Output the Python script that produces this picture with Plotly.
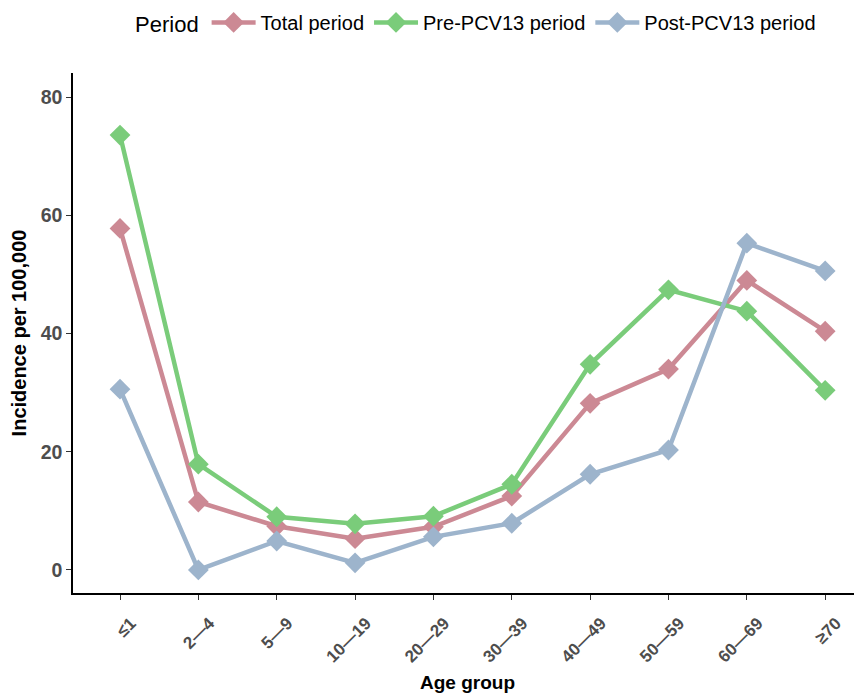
import plotly.graph_objects as go

age_groups = ["≤1", "2—4", "5—9", "10—19", "20—29", "30—39", "40—49", "50—59", "60—69", "≥70"]
total_period = [57.8, 11.5, 7.4, 5.3, 7.3, 12.5, 28.2, 34.0, 49.0, 40.4]
pre_pcv13 = [73.6, 17.9, 9.0, 7.8, 9.1, 14.5, 34.8, 47.4, 43.8, 30.4]
post_pcv13 = [30.6, 0.0, 4.9, 1.2, 5.6, 7.9, 16.2, 20.3, 55.3, 50.6]
y_ticks = [0, 20, 40, 60, 80]

series = [
    ("Total period", total_period, "#CC8994"),
    ("Pre-PCV13 period", pre_pcv13, "#7ACC7A"),
    ("Post-PCV13 period", post_pcv13, "#9DB4CC"),
]

fig = go.Figure()
for name, vals, color in series:
    fig.add_trace(go.Scatter(
        x=list(range(len(age_groups))), y=vals, name=name, mode="lines+markers",
        line=dict(color=color, width=4.5),
        marker=dict(symbol="diamond", size=16, color=color),
    ))

font_family = "Liberation Sans, Arial, sans-serif"
# page body has an 8px default margin, so the figure is offset by 8px
fig.update_layout(
    width=854, height=687,
    margin=dict(l=65, r=0, t=65, b=102),
    plot_bgcolor="white", paper_bgcolor="white",
    font=dict(family=font_family, color="black"),
    showlegend=True,
    legend=dict(
        orientation="h", xref="container", yref="container",
        x=0.1464, xanchor="left", y=0.979, yanchor="middle",
        title=dict(text="Period", font=dict(size=22)),
        font=dict(size=20), itemwidth=44, tracegroupgap=0,
    ),
    xaxis=dict(
        tickmode="array", tickvals=list(range(len(age_groups))),
        ticktext=[f"<b>{t}</b>" for t in age_groups],
        range=[-0.6, 9.47], tickangle=-45, automargin=False,
        showline=True, linecolor="black", linewidth=1.5,
        ticks="outside", ticklen=5, tickcolor="#333333", tickwidth=1.2,
        showgrid=False, zeroline=False,
        ticklabelshift=11, ticklabelstandoff=7,
        tickfont=dict(size=17, color="#4D4D4D", family=font_family),
        title=dict(text="<b>Age group</b>", font=dict(size=19, color="black"), standoff=10),
    ),
    yaxis=dict(
        range=[-3.9, 84.1], tickmode="array", tickvals=y_ticks,
        ticktext=[f"<b>{v}</b>" for v in y_ticks], automargin=False,
        showline=True, linecolor="black", linewidth=1.5,
        ticks="outside", ticklen=5, tickcolor="#333333", tickwidth=1.2,
        showgrid=False, zeroline=False,
        tickfont=dict(size=19.5, color="#4D4D4D", family=font_family),
        title=dict(text="<b>Incidence per 100,000</b>", font=dict(size=20, color="black"), standoff=9),
    ),
)

fig.write_html("out.html")
